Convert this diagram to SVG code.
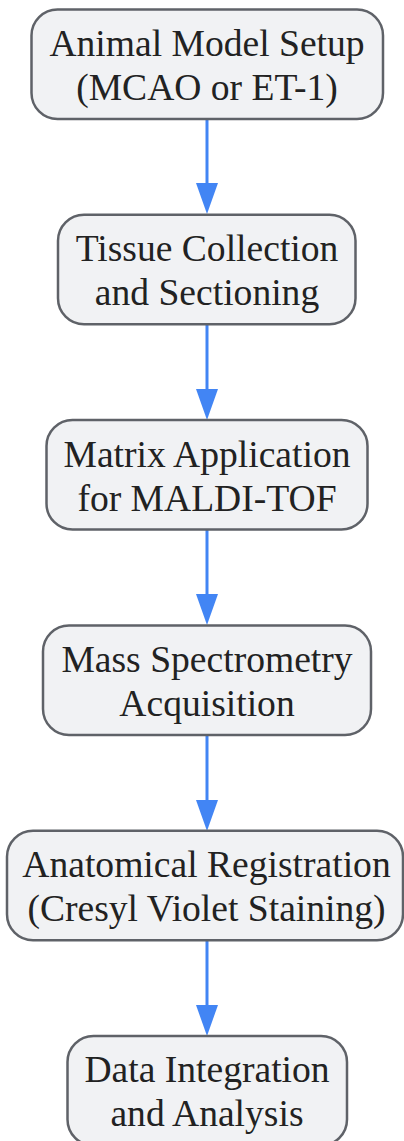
<svg xmlns="http://www.w3.org/2000/svg" width="404" height="1141" viewBox="0 0 404 1141">
<style>
.n rect{fill:#f1f2f4;stroke:#5f6268;stroke-width:2.5}
.n text{font-family:"Liberation Serif","Times New Roman",serif;font-size:37.6px;fill:#222;text-anchor:middle}
.e line{stroke:#4285f4;stroke-width:3}
.e polygon{fill:#4285f4}
</style>
<rect width="404" height="1141" fill="#fff"/>
<g id="connectors" class="e">
<line x1="207" y1="119" x2="207" y2="184"/><polygon points="196,183 218,183 207,214"/>
<line x1="207" y1="324" x2="207" y2="390"/><polygon points="196,389 218,389 207,420"/>
<line x1="207" y1="530" x2="207" y2="595"/><polygon points="196,594 218,594 207,625"/>
<line x1="207" y1="735" x2="207" y2="801"/><polygon points="196,800 218,800 207,831"/>
<line x1="207" y1="940" x2="207" y2="1006"/><polygon points="196,1005 218,1005 207,1036"/>
</g>
<g id="n1" class="n"><rect x="31.5" y="9.5" width="351.5" height="109.5" rx="26"/><text x="207" y="56">Animal Model Setup</text><text x="207" y="100">(MCAO or ET-1)</text></g>
<g id="n2" class="n"><rect x="58" y="214.8" width="297.5" height="109.5" rx="26"/><text x="207" y="261">Tissue Collection</text><text x="207" y="305">and Sectioning</text></g>
<g id="n3" class="n"><rect x="46.5" y="420.1" width="321" height="109.5" rx="26"/><text x="207" y="467">Matrix Application</text><text x="207" y="511">for MALDI-TOF</text></g>
<g id="n4" class="n"><rect x="43" y="625.4" width="328" height="109.5" rx="26"/><text x="207" y="672">Mass Spectrometry</text><text x="207" y="716">Acquisition</text></g>
<g id="n5" class="n"><rect x="7" y="830.7" width="396" height="109.5" rx="26"/><text x="206.5" y="877">Anatomical Registration</text><text x="206.5" y="921">(Cresyl Violet Staining)</text></g>
<g id="n6" class="n"><rect x="67.5" y="1036" width="279.5" height="109.5" rx="26"/><text x="207" y="1082">Data Integration</text><text x="207" y="1126">and Analysis</text></g>
</svg>
